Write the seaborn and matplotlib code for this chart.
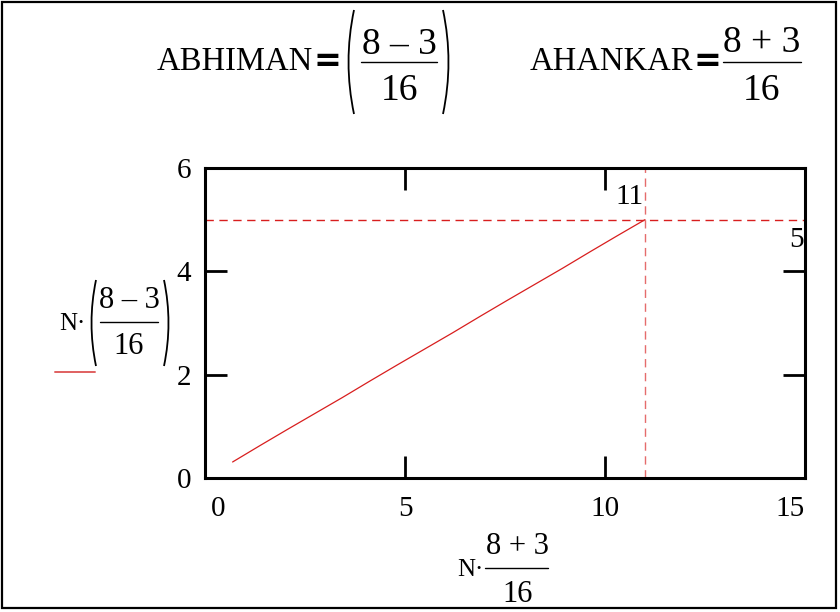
import matplotlib
matplotlib.use("Agg")
import matplotlib.pyplot as plt
import seaborn as sns
from matplotlib.patches import Rectangle, PathPatch
from matplotlib.path import Path
from matplotlib.lines import Line2D
from matplotlib.transforms import ScaledTranslation

# --- data --- #
x_vals = [0.69, 1.38, 2.06, 2.75, 3.44, 4.13, 4.81, 5.50, 6.19, 6.88, 7.56, 8.25, 8.94, 9.63, 10.31, 11.00]
y_vals = [0.31, 0.63, 0.94, 1.25, 1.56, 1.88, 2.19, 2.50, 2.81, 3.13, 3.44, 3.75, 4.06, 4.38, 4.69, 5.00]
x_ticks = [0, 5, 10, 15]
y_ticks = [0, 2, 4, 6]
marker_x = 11
marker_y = 5

W, H = 840, 612
SERIF = "Liberation Serif"
RED = "#d81e1e"


def fx(px):
    return px / W


def fy(py):
    return 1 - py / H


def ftext(fig, x, y, s, size, **kw):
    kw.setdefault("family", SERIF)
    kw.setdefault("color", "black")
    fig.text(fx(x), fy(y), s, fontsize=size, ha=kw.pop("ha", "center"),
             va=kw.pop("va", "center"), **kw)


def fbar(fig, x0, x1, y, lw=1.0):
    fig.add_artist(Line2D([fx(x0), fx(x1)], [fy(y), fy(y)], color="black",
                          lw=lw, transform=fig.transFigure))


def paren(fig, x, top, bottom, left=True, bulge=11):
    # thin tall bracket drawn as a curve
    mid = (top + bottom) / 2
    cx = x - bulge if left else x + bulge
    verts = [(fx(x), fy(top)), (fx(cx), fy(mid)), (fx(x), fy(bottom))]
    p = Path(verts, [Path.MOVETO, Path.CURVE3, Path.CURVE3])
    fig.add_artist(PathPatch(p, fill=False, lw=1.3, color="black",
                             transform=fig.transFigure))


sns.set_theme(style="white")
plt.rcParams["font.family"] = [SERIF, "DejaVu Serif"]
plt.rcParams["text.color"] = "black"

fig = plt.figure(figsize=(W / 100, H / 100), dpi=100)
ax = fig.add_axes([fx(205), fy(478), 600 / W, 310 / H])

# - main curve - #
sns.lineplot(x=x_vals, y=y_vals, color=RED, lw=0.9, sort=False,
             estimator=None, ax=ax)

# - marker lines - #
ax.axhline(marker_y, color=RED, lw=1.0, ls=(0, (6, 4)))
ax.axvline(marker_x, color=RED, lw=1.0, ls=(0, (6, 4)), alpha=0.65)
ax.text(marker_x - 0.03, 5.43, str(marker_x), ha="right", va="center",
        fontsize=21, family=SERIF, color="black")
ax.annotate(str(marker_y), (15, 4.6), xytext=(-1, 0), textcoords="offset points",
            ha="right", va="center", fontsize=21, family=SERIF, color="black")

# - axes styling - #
ax.set_xlim(0, 15)
ax.set_ylim(0, 6)
ax.set_xticks(x_ticks)
ax.set_yticks(y_ticks)
ax.set_xticklabels([str(t) for t in x_ticks])
ax.set_yticklabels([str(t) for t in y_ticks])
ax.tick_params(direction="in", length=16, width=2, top=True, right=True,
               bottom=True, left=True, labelsize=21, colors="black")
ax.tick_params(axis="x", pad=13)
ax.tick_params(axis="y", pad=10)
xl = ax.get_xticklabels()
xl[0].set_transform(xl[0].get_transform() + ScaledTranslation(0.13, 0, fig.dpi_scale_trans))
xl[-1].set_ha("right")
for s in ax.spines.values():
    s.set_linewidth(2.2)
    s.set_color("black")
ax.grid(False)

# - header definitions - #
ftext(fig, 235, 62, "ABHIMAN", 23.5)
ftext(fig, 327, 62, "=", 24, family="DejaVu Sans", fontweight="bold")
paren(fig, 354, 10, 114, left=True)
ftext(fig, 399, 45, "8 – 3", 27)
fbar(fig, 361, 437, 62)
ftext(fig, 399, 91, "16", 27)
paren(fig, 443, 10, 114, left=False)

ftext(fig, 611, 62, "AHANKAR", 23.5)
ftext(fig, 707, 62, "=", 24, family="DejaVu Sans", fontweight="bold")
ftext(fig, 762, 43, "8 + 3", 27)
fbar(fig, 723, 801, 62)
ftext(fig, 762, 91, "16", 27)

# - y label - #
ftext(fig, 72, 324, "N·", 18)
paren(fig, 96, 280, 366, left=True, bulge=9)
ftext(fig, 129, 300, "8 – 3", 22)
fbar(fig, 100, 158, 322)
ftext(fig, 129, 346, "16", 22)
paren(fig, 164, 280, 366, left=False, bulge=9)
fig.add_artist(Line2D([fx(55), fx(95)], [fy(372), fy(372)], color="#e06060",
                      lw=1.4, transform=fig.transFigure))

# - x label - #
ftext(fig, 470, 570, "N·", 18)
ftext(fig, 518, 547, "8 + 3", 22)
fbar(fig, 485, 548, 568)
ftext(fig, 518, 595, "16", 22)

# - outer frame - #
fig.add_artist(Rectangle((fx(2), fy(608)), fx(834), 606 / H, fill=False,
                         lw=1.6, edgecolor="black", transform=fig.transFigure))

plt.savefig("out.png", dpi=100)
plt.close()
